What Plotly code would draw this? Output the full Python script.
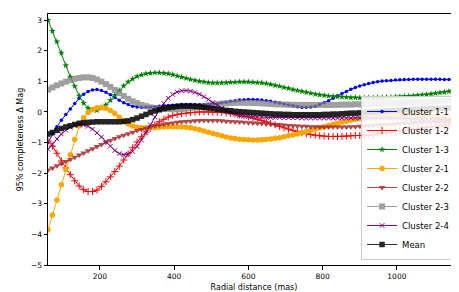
import plotly.graph_objects as go

# Radial distance grid (mas)
X = list(range(60, 1165, 12))

cluster_1_1 = [-1.0, -0.72, -0.48, -0.27, -0.08, 0.10, 0.28, 0.45, 0.58, 0.67,
               0.72, 0.73, 0.70, 0.64, 0.56, 0.47, 0.38, 0.30, 0.24, 0.19,
               0.16, 0.15, 0.15, 0.16, 0.17, 0.19, 0.20, 0.21, 0.22, 0.23,
               0.24, 0.24, 0.24, 0.24, 0.24, 0.24, 0.25, 0.26, 0.28, 0.30,
               0.32, 0.35, 0.37, 0.39, 0.40, 0.41, 0.41, 0.40, 0.39, 0.37,
               0.35, 0.32, 0.29, 0.26, 0.23, 0.20, 0.17, 0.15, 0.15, 0.16,
               0.19, 0.24, 0.30, 0.37, 0.45, 0.53, 0.60, 0.67, 0.74, 0.80,
               0.85, 0.89, 0.93, 0.96, 0.99, 1.01, 1.02, 1.03, 1.04, 1.05,
               1.06, 1.06, 1.07, 1.07, 1.07, 1.07, 1.07, 1.07, 1.07, 1.06,
               1.06, 1.05, 1.05]

cluster_1_2 = [-0.95, -1.12, -1.35, -1.60, -1.83, -2.05, -2.25, -2.42, -2.54, -2.60,
               -2.60, -2.55, -2.43, -2.28, -2.12, -1.95, -1.77, -1.57, -1.37, -1.17,
               -0.98, -0.81, -0.66, -0.53, -0.42, -0.32, -0.24, -0.17, -0.12, -0.08,
               -0.06, -0.04, -0.02, -0.01, 0.00, 0.00, 0.00, -0.01, -0.01, -0.02,
               -0.03, -0.05, -0.07, -0.10, -0.13, -0.16, -0.20, -0.24, -0.28, -0.32,
               -0.37, -0.42, -0.47, -0.52, -0.56, -0.60, -0.64, -0.68, -0.71, -0.74,
               -0.76, -0.78, -0.79, -0.80, -0.80, -0.80, -0.80, -0.79, -0.78, -0.77,
               -0.77, -0.76, -0.75, -0.74, -0.72, -0.70, -0.68, -0.66, -0.64, -0.62,
               -0.60, -0.58, -0.56, -0.54, -0.52, -0.50, -0.48, -0.47, -0.45, -0.44,
               -0.42, -0.41, -0.40]

cluster_1_3 = [3.0, 2.64, 2.30, 1.93, 1.52, 1.15, 0.84, 0.53, 0.29, 0.13,
               0.06, 0.06, 0.12, 0.23, 0.38, 0.54, 0.70, 0.85, 0.98, 1.08,
               1.16, 1.21, 1.25, 1.27, 1.28, 1.28, 1.27, 1.25, 1.22, 1.18,
               1.14, 1.10, 1.06, 1.03, 1.00, 0.98, 0.96, 0.95, 0.95, 0.95,
               0.96, 0.97, 0.97, 0.98, 0.98, 0.98, 0.97, 0.96, 0.95, 0.93,
               0.90, 0.87, 0.84, 0.80, 0.77, 0.73, 0.70, 0.67, 0.64, 0.61,
               0.58, 0.56, 0.54, 0.52, 0.51, 0.50, 0.49, 0.48, 0.47, 0.47,
               0.46, 0.46, 0.46, 0.46, 0.47, 0.47, 0.48, 0.48, 0.49, 0.50,
               0.51, 0.52, 0.53, 0.54, 0.56, 0.57, 0.59, 0.61, 0.63, 0.65,
               0.67, 0.70, 0.73]

cluster_2_1 = [-3.85, -3.37, -2.88, -2.38, -1.88, -1.40, -0.90, -0.46, -0.19, -0.02,
               0.08, 0.14, 0.15, 0.12, 0.05, -0.05, -0.17, -0.29, -0.39, -0.46,
               -0.50, -0.52, -0.52, -0.52, -0.51, -0.50, -0.49, -0.48, -0.48, -0.48,
               -0.49, -0.50, -0.52, -0.55, -0.58, -0.62, -0.66, -0.70, -0.74, -0.78,
               -0.82, -0.85, -0.87, -0.89, -0.90, -0.91, -0.92, -0.92, -0.91, -0.90,
               -0.88, -0.86, -0.84, -0.81, -0.78, -0.75, -0.72, -0.68, -0.64, -0.60,
               -0.56, -0.52, -0.48, -0.44, -0.40, -0.37, -0.33, -0.30, -0.27, -0.24,
               -0.21, -0.19, -0.17, -0.15, -0.13, -0.12, -0.11, -0.10, -0.09, -0.09,
               -0.09, -0.09, -0.10, -0.10, -0.11, -0.12, -0.14, -0.15, -0.17, -0.19,
               -0.21, -0.24, -0.27]

cluster_2_2 = [-1.90, -1.83, -1.76, -1.69, -1.62, -1.55, -1.48, -1.41, -1.34, -1.27,
               -1.20, -1.13, -1.06, -0.99, -0.93, -0.87, -0.81, -0.76, -0.71, -0.66,
               -0.61, -0.57, -0.53, -0.49, -0.46, -0.43, -0.40, -0.38, -0.36, -0.34,
               -0.32, -0.31, -0.30, -0.29, -0.28, -0.28, -0.28, -0.28, -0.28, -0.29,
               -0.30, -0.31, -0.32, -0.33, -0.34, -0.35, -0.36, -0.37, -0.38, -0.39,
               -0.40, -0.41, -0.42, -0.43, -0.44, -0.45, -0.46, -0.47, -0.47, -0.48,
               -0.48, -0.49, -0.49, -0.49, -0.49, -0.49, -0.49, -0.49, -0.48, -0.48,
               -0.47, -0.46, -0.45, -0.44, -0.43, -0.42, -0.41, -0.40, -0.39, -0.38,
               -0.37, -0.36, -0.35, -0.35, -0.34, -0.34, -0.33, -0.33, -0.33, -0.32,
               -0.32, -0.32, -0.32]

cluster_2_3 = [0.73, 0.80, 0.87, 0.93, 0.99, 1.04, 1.08, 1.11, 1.13, 1.13,
               1.11, 1.06, 0.99, 0.91, 0.82, 0.72, 0.62, 0.52, 0.43, 0.35,
               0.29, 0.23, 0.19, 0.15, 0.13, 0.11, 0.10, 0.09, 0.09, 0.09,
               0.10, 0.11, 0.13, 0.15, 0.17, 0.19, 0.21, 0.23, 0.25, 0.27,
               0.28, 0.29, 0.30, 0.30, 0.30, 0.30, 0.29, 0.29, 0.28, 0.27,
               0.26, 0.25, 0.25, 0.24, 0.24, 0.23, 0.23, 0.23, 0.23, 0.23,
               0.23, 0.23, 0.23, 0.23, 0.23, 0.23, 0.24, 0.24, 0.24, 0.25,
               0.25, 0.26, 0.26, 0.27, 0.27, 0.28, 0.28, 0.29, 0.29, 0.30,
               0.30, 0.31, 0.31, 0.32, 0.33, 0.33, 0.34, 0.35, 0.36, 0.37,
               0.37, 0.38, 0.39]

cluster_2_4 = [-1.22, -1.05, -0.88, -0.72, -0.60, -0.50, -0.44, -0.41, -0.42, -0.47,
               -0.56, -0.68, -0.82, -0.97, -1.12, -1.26, -1.36, -1.40, -1.38, -1.29,
               -1.13, -0.92, -0.68, -0.42, -0.17, 0.07, 0.28, 0.45, 0.57, 0.65,
               0.69, 0.70, 0.68, 0.64, 0.58, 0.50, 0.41, 0.31, 0.21, 0.12,
               0.04, -0.03, -0.08, -0.12, -0.14, -0.15, -0.16, -0.16, -0.17, -0.17,
               -0.18, -0.18, -0.18, -0.19, -0.19, -0.19, -0.19, -0.20, -0.20, -0.20,
               -0.20, -0.20, -0.20, -0.20, -0.20, -0.20, -0.20, -0.20, -0.20, -0.20,
               -0.20, -0.20, -0.20, -0.20, -0.20, -0.20, -0.20, -0.21, -0.21, -0.21,
               -0.21, -0.22, -0.22, -0.22, -0.23, -0.23, -0.23, -0.24, -0.24, -0.24,
               -0.25, -0.25, -0.25]

mean_curve = [-0.72, -0.67, -0.60, -0.54, -0.49, -0.45, -0.41, -0.37, -0.35, -0.34,
              -0.33, -0.32, -0.32, -0.32, -0.32, -0.32, -0.32, -0.31, -0.29, -0.25,
              -0.20, -0.14, -0.08, -0.02, 0.03, 0.07, 0.11, 0.14, 0.16, 0.18,
              0.19, 0.19, 0.19, 0.18, 0.17, 0.15, 0.13, 0.11, 0.09, 0.07,
              0.05, 0.04, 0.02, 0.01, 0.00, -0.01, -0.02, -0.03, -0.04, -0.05,
              -0.06, -0.07, -0.07, -0.08, -0.08, -0.09, -0.09, -0.09, -0.09, -0.09,
              -0.09, -0.09, -0.08, -0.08, -0.07, -0.07, -0.06, -0.05, -0.04, -0.04,
              -0.03, -0.02, -0.01, 0.00, 0.01, 0.02, 0.03, 0.04, 0.05, 0.06,
              0.07, 0.07, 0.08, 0.09, 0.10, 0.10, 0.11, 0.11, 0.12, 0.12,
              0.13, 0.13, 0.13]

series_names = ["Cluster 1-1", "Cluster 1-2", "Cluster 1-3", "Cluster 2-1",
                "Cluster 2-2", "Cluster 2-3", "Cluster 2-4", "Mean"]
series_values = [cluster_1_1, cluster_1_2, cluster_1_3, cluster_2_1,
                 cluster_2_2, cluster_2_3, cluster_2_4, mean_curve]

styles = [
    dict(color="#0000ff", symbol="circle", size=3.5, opacity=1.0, mline=0),
    dict(color="#ff0000", symbol="cross-thin", size=5, opacity=1.0, mline=1),
    dict(color="#008000", symbol="star", size=5, opacity=1.0, mline=0),
    dict(color="#ffa500", symbol="circle", size=5.5, opacity=1.0, mline=0),
    dict(color="#a52a2a", symbol="triangle-down", size=6, opacity=0.85, mline=0),
    dict(color="#808080", symbol="square", size=6, opacity=0.75, mline=0),
    dict(color="#800080", symbol="x-thin", size=4.5, opacity=1.0, mline=1),
    dict(color="#000000", symbol="square", size=5.5, opacity=0.85, mline=0),
]

fig = go.Figure()
for name, vals, st in zip(series_names, series_values, styles):
    marker = dict(symbol=st["symbol"], size=st["size"], color=st["color"])
    if st["mline"]:
        marker["line"] = dict(color=st["color"], width=1)
    else:
        marker["line"] = dict(width=0)
    fig.add_trace(go.Scatter(
        x=X[:len(vals)], y=vals, mode="lines+markers", name=name,
        line=dict(color=st["color"], width=1),
        marker=marker, opacity=st["opacity"],
    ))

axis_common = dict(
    showline=True, linecolor="black", linewidth=1, mirror=True,
    ticks="outside", ticklen=3.5, tickwidth=1, tickcolor="black",
    showgrid=False, zeroline=False,
    tickfont=dict(family="DejaVu Sans", size=7.5, color="black"),
)

fig.update_layout(
    width=459, height=292,
    margin=dict(l=40, r=7, t=6, b=35),
    paper_bgcolor="white", plot_bgcolor="white",
    font=dict(family="DejaVu Sans", color="black"),
    xaxis=dict(range=[60, 1170], tickvals=[200, 400, 600, 800, 1000],
               title=dict(text="Radial distance (mas)", font=dict(size=8), standoff=4),
               **axis_common),
    yaxis=dict(range=[-5, 3.2], tickvals=[-5, -4, -3, -2, -1, 0, 1, 2, 3],
               title=dict(text="95% completeness Δ Mag", font=dict(size=8), standoff=6),
               **axis_common),
    legend=dict(x=0.988, y=0.02, xanchor="right", yanchor="bottom",
                bgcolor="rgba(255,255,255,0.85)", bordercolor="#cccccc", borderwidth=1,
                font=dict(size=8.5, family="DejaVu Sans"), tracegroupgap=0,
                itemwidth=30),
    showlegend=True,
)

fig.write_html("out.html")
